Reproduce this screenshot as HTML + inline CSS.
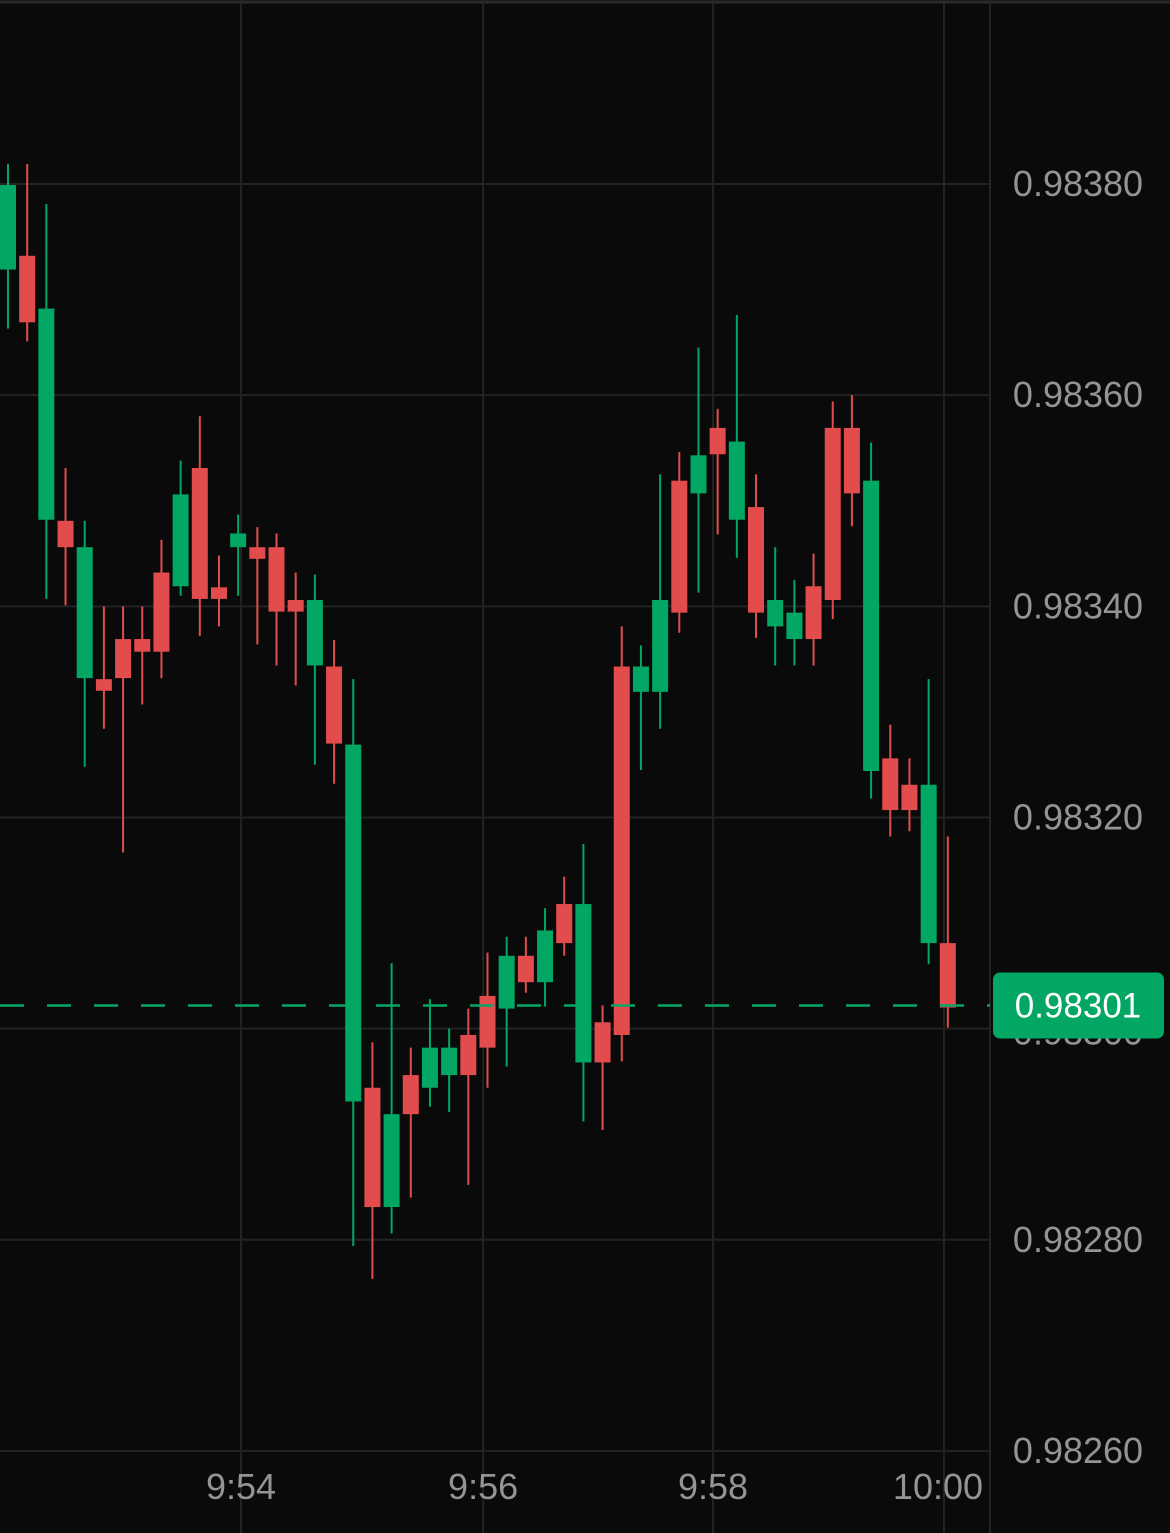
<!DOCTYPE html>
<html><head><meta charset="utf-8"><style>
html,body{margin:0;padding:0;background:#0a0a0a;}
svg{display:block;font-family:"Liberation Sans",sans-serif;}
</style></head><body>
<svg id="chart" width="1170" height="1533" viewBox="0 0 1170 1533" xmlns="http://www.w3.org/2000/svg">
<rect x="0" y="0" width="1170" height="1533" fill="#0a0a0a"/>
<line x1="0" y1="2" x2="1170" y2="2" stroke="#2a2a2a" stroke-width="3"/>
<g id="grid"></g>
<g id="candles"></g>
<g id="axes"></g>
</svg>
<script>
const opens = [0.983719,0.983732,0.983482,0.983481,0.983332,0.983331,0.983369,0.983369,0.983432,0.983419,0.983531,0.983418,0.983456,0.983456,0.983456,0.983406,0.983344,0.983343,0.982931,0.982944,0.982831,0.982956,0.982944,0.982956,0.982994,0.983031,0.983019,0.983069,0.983044,0.983118,0.982968,0.983006,0.983343,0.983319,0.983319,0.983519,0.983507,0.983569,0.983482,0.983494,0.983381,0.983369,0.983419,0.983569,0.983569,0.983244,0.983256,0.983231,0.983081,0.983081];
const highs = [0.983819,0.983819,0.983781,0.983531,0.983481,0.983400,0.983400,0.983400,0.983463,0.983538,0.983580,0.983448,0.983487,0.983475,0.983469,0.983432,0.983430,0.983368,0.983331,0.982987,0.983062,0.982982,0.983028,0.983000,0.983019,0.983072,0.983087,0.983087,0.983114,0.983144,0.983175,0.983022,0.983381,0.983363,0.983525,0.983546,0.983645,0.983587,0.983676,0.983525,0.983456,0.983425,0.983450,0.983594,0.983600,0.983555,0.983288,0.983256,0.983331,0.983182];
const lows = [0.983663,0.983651,0.983407,0.983401,0.983248,0.983284,0.983167,0.983307,0.983332,0.983410,0.983372,0.983381,0.983410,0.983364,0.983344,0.983325,0.983250,0.983232,0.982794,0.982763,0.982806,0.982840,0.982926,0.982921,0.982852,0.982944,0.982964,0.983034,0.983021,0.983069,0.982912,0.982904,0.982969,0.983245,0.983284,0.983375,0.983413,0.983468,0.983446,0.983370,0.983344,0.983344,0.983344,0.983388,0.983476,0.983218,0.983182,0.983187,0.983061,0.983001];
const closes = [0.983799,0.983669,0.983682,0.983456,0.983456,0.983320,0.983332,0.983357,0.983357,0.983506,0.983407,0.983407,0.983469,0.983445,0.983395,0.983395,0.983406,0.983270,0.983269,0.982831,0.982919,0.982919,0.982982,0.982982,0.982956,0.982982,0.983069,0.983044,0.983093,0.983081,0.983118,0.982968,0.982994,0.983343,0.983406,0.983394,0.983543,0.983544,0.983556,0.983394,0.983406,0.983394,0.983369,0.983406,0.983507,0.983519,0.983207,0.983207,0.983231,0.983020];
const priceTicks = [0.98380,0.98360,0.98340,0.98320,0.98300,0.98280,0.98260];
const priceTickLabels = ["0.98380","0.98360","0.98340","0.98320","0.98300","0.98280","0.98260"];
const timeTickIndex = [12.15,24.77,36.76,48.8];
const timeTickLabels = ["9:54","9:56","9:58","10:00"];
const lastPriceLabel = "0.98301";

const NS="http://www.w3.org/2000/svg";
const yScale = v => 184 + (0.98380 - v) * 1055800;
const xScale = i => 8 + i * 19.18;
const GREEN="#02a764", RED="#e24c4c";
function mk(tag, attrs, parent){const e=document.createElementNS(NS,tag);for(const k in attrs)e.setAttribute(k,attrs[k]);parent.appendChild(e);return e;}
const grid=document.getElementById('grid'), cg=document.getElementById('candles'), ax=document.getElementById('axes');

priceTicks.forEach((v,i)=>{
  const y=yScale(v);
  const l=mk('line',{x1:0,x2:990,y1:y,y2:y,stroke:'#232323','stroke-width':2},grid);
  
  
});
timeTickIndex.forEach((t,i)=>{
  const x=xScale(t);
  const l=mk('line',{x1:x,x2:x,y1:0,y2:1533,stroke:'#232323','stroke-width':2},grid);
  
  
});
const sep=mk('line',{x1:990,x2:990,y1:0,y2:1533,stroke:'#232323','stroke-width':2},grid);



opens.forEach((o,i)=>{
  const c=closes[i], up=c>=o, col=up?GREEN:RED, x=xScale(i);
  const g=mk('g',{},cg);
  
  
  const w=mk('line',{x1:x,x2:x,y1:yScale(highs[i]),y2:yScale(lows[i]),stroke:col,'stroke-width':2},g);
  
  
  const top=yScale(Math.max(o,c)), bot=yScale(Math.min(o,c));
  const b=mk('rect',{x:x-8,y:top,width:16,height:Math.max(2,bot-top),fill:col},g);
  
  
});

priceTicks.forEach((v,i)=>{
  const t=mk('text',{x:1078,y:yScale(v)+12 + (i===4?4:0),'text-anchor':'middle','font-size':36,fill:'#949494'},ax);
  t.textContent=priceTickLabels[i];
  
  
});
timeTickIndex.forEach((ti,i)=>{
  const t=mk('text',{x:xScale(ti)-(i===3?6:0),y:1499,'text-anchor':'middle','font-size':36,fill:'#949494'},ax);
  t.textContent=timeTickLabels[i];
  
  
});

const last=closes[closes.length-1], ly=yScale(last)-2;
const dl=mk('line',{x1:0,x2:990,y1:ly,y2:ly,stroke:GREEN,'stroke-width':2.5,'stroke-dasharray':'24,23'},ax);


const tag=mk('rect',{x:993,y:ly-33,width:171,height:66,rx:7,fill:GREEN},ax);


const tt=mk('text',{x:1078,y:ly+12,'text-anchor':'middle','font-size':35,fill:'#ffffff'},ax);
tt.textContent=lastPriceLabel;


</script>
</body></html>
